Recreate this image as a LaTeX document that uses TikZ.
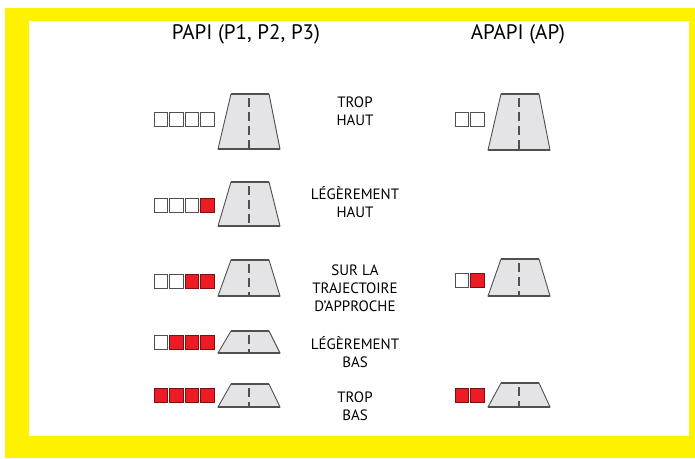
\documentclass[tikz,border=0pt]{standalone}
\usepackage{fontspec}
\setmainfont{PT Sans}
\definecolor{frameyellow}{HTML}{FFF200}
\definecolor{lampred}{HTML}{ED1C24}
\definecolor{lampredline}{HTML}{7A1014}
\definecolor{rwyfill}{HTML}{E4E4E6}
\definecolor{rwyline}{HTML}{505050}
\tikzset{
  rwy/.style={fill=rwyfill, draw=rwyline, line width=0.9pt, line join=miter},
  rwyedge/.style={draw=rwyline, line width=1.7pt},
  cline/.style={draw=rwyline, line width=1.1pt, dash pattern=on 8.5pt off 5.5pt},
  lampw/.style={fill=white, draw=rwyline, line width=0.9pt},
  lampr/.style={fill=lampred, draw=lampredline, line width=0.9pt},
  lbl/.style={align=center, font=\fontsize{15}{18}\selectfont, inner sep=0pt},
  ttl/.style={font=\fontsize{21}{24}\selectfont, inner sep=0pt}
}
\newcommand{\rway}[3]{%
  \filldraw[rwy] ({#1+13},#2) -- ({#1+51},#2) -- ({#1+62},#3) -- (#1,#3) -- cycle;
  \draw[rwyedge] ({#1+13},#2) -- ({#1+51},#2);
  \draw[rwyedge] (#1,#3) -- ({#1+62},#3);
  \draw[cline] ({#1+31},{#2+4}) -- ({#1+31},#3);
}
\newcommand{\lamps}[3]{%
  \foreach \c [count=\i from 0] in {#3} {
    \draw[lamp\c] ({#1+\i*15.5},{#2-7}) rectangle ++(13.8,14);
  }
}
\begin{document}
\begin{tikzpicture}[x=1pt,y=-1pt]
\useasboundingbox (0,0) rectangle (695,458);
% frame
\fill[frameyellow] (5,8) rectangle (695,458);
\fill[white] (29,21) rectangle (689,436);
% titles
\node[ttl] (tpapi) at (246,34) {PAPI (P1, P2, P3)};
\node[ttl] (tapapi) at (518,34) {APAPI (AP)};
% PAPI column
\lamps{154}{119}{w,w,w,w}
\rway{218}{94}{149}
\lamps{154}{205}{w,w,w,r}
\rway{218}{182}{226}
\lamps{154}{281}{w,w,r,r}
\rway{218}{260}{296}
\lamps{154}{342.5}{w,r,r,r}
\rway{218}{331}{353}
\lamps{154}{395.5}{r,r,r,r}
\rway{218}{384}{407}
% APAPI column
\lamps{455}{119}{w,w}
\rway{488}{94}{150}
\lamps{455}{280}{w,r}
\rway{488}{259}{296}
\lamps{455}{395}{r,r}
\rway{488}{383}{407}
% labels
\node[lbl] (l1) at (355,111) {TROP\\HAUT};
\node[lbl] (l2) at (355,202.5) {LÉGÈREMENT\\HAUT};
\node[lbl] (l3) at (355,288) {SUR LA\\TRAJECTOIRE\\D{\char"27}APPROCHE};
\node[lbl] (l4) at (355,352) {LÉGÈREMENT\\BAS};
\node[lbl] (l5) at (355,406) {TROP\\BAS};
\end{tikzpicture}
\end{document}
